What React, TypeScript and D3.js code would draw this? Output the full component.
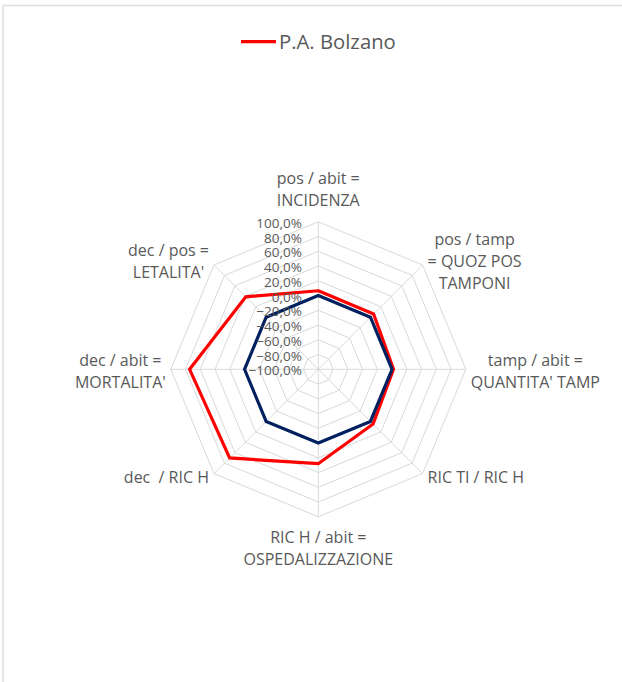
import React from "react";
import * as d3 from "d3";

const categories: string[] = [
  "pos / abit =\nINCIDENZA",
  "pos / tamp\n= QUOZ POS\nTAMPONI",
  "tamp / abit =\nQUANTITA' TAMP",
  "RIC TI / RIC H",
  "RIC H / abit =\nOSPEDALIZZAZIONE",
  "dec  / RIC H",
  "dec / abit =\nMORTALITA'",
  "dec / pos =\nLETALITA'",
];
const bolzanoValues: number[] = [0.065, 0.06, 0.02, 0.05, 0.28, 0.70, 0.745, 0.39];
const referenceValues: number[] = [0, 0, 0, 0, 0, 0, 0, 0];
const tickValues: number[] = [-1, -0.8, -0.6, -0.4, -0.2, 0, 0.2, 0.4, 0.6, 0.8, 1];
const seriesName = "P.A. Bolzano";

const W = 622;
const H = 682;
const cx = 318.3;
const cy = 369.3;
const R = 147.5;
const FONT = "'Open Sans', sans-serif";
const LABEL_SIZE = 16;
const LINE_H = 22;
const TEXT_COLOR = "#595959";
const GRID = "#d9d9d9";

let ctx: CanvasRenderingContext2D | null = null;
function measure(text: string, size: number): number {
  if (typeof document === "undefined") return text.length * size * 0.55;
  if (!ctx) ctx = document.createElement("canvas").getContext("2d");
  if (!ctx) return text.length * size * 0.55;
  ctx.font = `${size}px 'Open Sans'`;
  return ctx.measureText(text).width;
}

export default function App() {
  const r = d3.scaleLinear().domain([-1, 1]).range([0, R]);
  const angle = d3
    .scalePoint<number>()
    .domain(d3.range(categories.length + 1))
    .range([0, 2 * Math.PI]);
  const ang = (i: number) => angle(i) as number;
  const pt = (i: number, v: number): [number, number] => {
    const a = ang(i);
    return [cx + r(v) * Math.sin(a), cy - r(v) * Math.cos(a)];
  };

  const lineGen = d3
    .lineRadial<number>()
    .angle((_, i) => ang(i))
    .radius((v) => r(v))
    .curve(d3.curveLinearClosed);

  const fmt = (v: number) => d3.format(".1f")(v * 100).replace(".", ",") + "%";

  const labels = categories.map((c, i) => {
    const lines = c.split("\n");
    const a = ang(i);
    const s = Math.sin(a);
    const co = Math.cos(a);
    const widths = lines.map((l) => measure(l, LABEL_SIZE));
    const bw = Math.max(...widths);
    const bh = lines.length * LINE_H;
    const [vx, vy] = pt(i, 1);
    let bx: number;
    let by: number;
    if (Math.abs(s) < 0.1) {
      bx = vx;
      by = co > 0 ? vy - 11 - bh / 2 : vy + 9 + bh / 2;
    } else {
      bx = s > 0 ? vx + 5 + bw / 2 : vx - 5 - bw / 2;
      by = Math.abs(co) < 0.1 ? vy + 2 : vy - co * 5;
    }
    return { lines, bx, by, bh, i };
  });

  return (
    <svg
      width={W}
      height={H}
      style={{ position: "absolute", left: 0, top: 0, background: "#fff" }}
      fontFamily={FONT}
    >
      <rect x={3} y={5.5} width={W + 20} height={H + 20} fill="#fff" stroke="#dedede" strokeWidth={1.5} />

      {tickValues.slice(1).map((t) => (
        <polygon
          key={t}
          points={categories.map((_, i) => pt(i, t).join(",")).join(" ")}
          fill="none"
          stroke={GRID}
          strokeWidth={1}
        />
      ))}
      {categories.map((_, i) => {
        const [x, y] = pt(i, 1);
        return <line key={i} x1={cx} y1={cy} x2={x} y2={y} stroke={GRID} strokeWidth={1} />;
      })}

      <path
        d={lineGen(bolzanoValues) || ""}
        transform={`translate(${cx},${cy})`}
        fill="none"
        stroke="#ff0000"
        strokeWidth={3.2}
        strokeLinejoin="miter"
      />
      <path
        d={lineGen(referenceValues) || ""}
        transform={`translate(${cx},${cy})`}
        fill="none"
        stroke="#002060"
        strokeWidth={3.2}
        strokeLinejoin="miter"
      />

      {tickValues.map((t) => (
        <text
          key={t}
          x={cx - 16.5}
          y={cy - r(t) + 1}
          textAnchor="end"
          dominantBaseline="central"
          fontSize={13.5}
          fill={TEXT_COLOR}
        >
          {fmt(t)}
        </text>
      ))}

      {labels.map((lb) => (
        <text
          key={lb.i}
          fontSize={LABEL_SIZE}
          fill={TEXT_COLOR}
          textAnchor="middle"
          style={{ whiteSpace: "pre" }}
        >
          {lb.lines.map((l, k) => (
            <tspan
              key={k}
              x={lb.bx}
              y={lb.by - lb.bh / 2 + k * LINE_H + LINE_H / 2}
              dominantBaseline="central"
            >
              {l}
            </tspan>
          ))}
        </text>
      ))}

      <line x1={241} x2={276} y1={41.7} y2={41.7} stroke="#ff0000" strokeWidth={3.2} />
      <text x={279} y={49.3} fontSize={20.3} fill={TEXT_COLOR}>
        {seriesName}
      </text>
    </svg>
  );
}
